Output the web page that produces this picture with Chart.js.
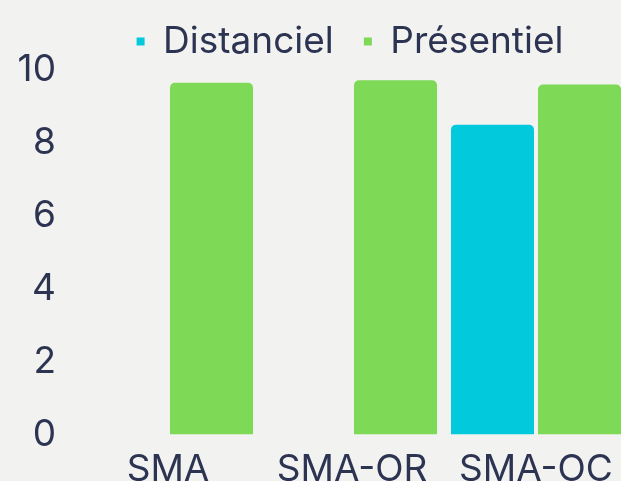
<!DOCTYPE html>
<html lang="fr">
<head>
<meta charset="utf-8">
<title>Distanciel / Présentiel</title>
<script src="https://cdn.jsdelivr.net/npm/chart.js@4/dist/chart.umd.min.js"></script>
<style>
    html, body {
        margin: 0;
        padding: 0;
        width: 621px;
        height: 481px;
        overflow: hidden;
        background: #f2f2f1;
    }
    #wrap {
        position: absolute;
        left: 0;
        top: 0;
    }
</style>
</head>
<body>
<div id="wrap">
    <canvas id="graphique" width="700" height="497"></canvas>
</div>
<script>
// Données du graphique
const categories = ['SMA', 'SMA-OR', 'SMA-OC'];
const distanciel = [null, null, 8.5];
const presentiel = [9.65, 9.72, 9.6];
const yTicks = [0, 2, 4, 6, 8, 10];

const couleurTexte = '#2d3452';
const police = "Inter, 'Open Sans', sans-serif";

// Crée le graphique
function creerGraphique() {
    const ctx = document.getElementById('graphique');

    new Chart(ctx, {
        type: 'bar',
        data: {
            labels: categories,
            datasets: [{
                label: 'Distanciel',
                data: distanciel,
                backgroundColor: '#02c9dc',
                borderRadius: 5,
                categoryPercentage: 0.946,
                barPercentage: 0.954
            }, {
                label: 'Présentiel',
                data: presentiel,
                backgroundColor: '#7ed957',
                borderRadius: 5,
                categoryPercentage: 0.946,
                barPercentage: 0.954
            }]
        },
        options: {
            responsive: false,
            animation: false,
            layout: {
                padding: { top: -7, left: 0, right: 0, bottom: 0 }
            },
            plugins: {
                legend: {
                    position: 'top',
                    labels: {
                        boxWidth: 8,
                        boxHeight: 8,
                        padding: 30,
                        color: couleurTexte,
                        font: { family: police, size: 37 }
                    }
                },
                tooltip: { enabled: false }
            },
            scales: {
                x: {
                    grid: { display: false },
                    border: { display: false },
                    ticks: {
                        color: couleurTexte,
                        padding: 5,
                        font: { family: police, size: 37 }
                    }
                },
                y: {
                    min: 0,
                    max: 10,
                    grid: { display: false },
                    border: { display: false },
                    afterFit(scale) { scale.width = 76; },
                    afterBuildTicks(scale) {
                        scale.ticks = yTicks.map(v => ({ value: v }));
                    },
                    ticks: {
                        color: couleurTexte,
                        padding: 12,
                        font: { family: police, size: 37 }
                    }
                },
                // axe vide à droite pour décaler la zone du graphique
                y2: {
                    position: 'right',
                    grid: { display: false },
                    border: { display: false },
                    ticks: { display: false },
                    afterFit(scale) { scale.width = 72; }
                }
            }
        }
    });
}

creerGraphique();
</script>
</body>
</html>
